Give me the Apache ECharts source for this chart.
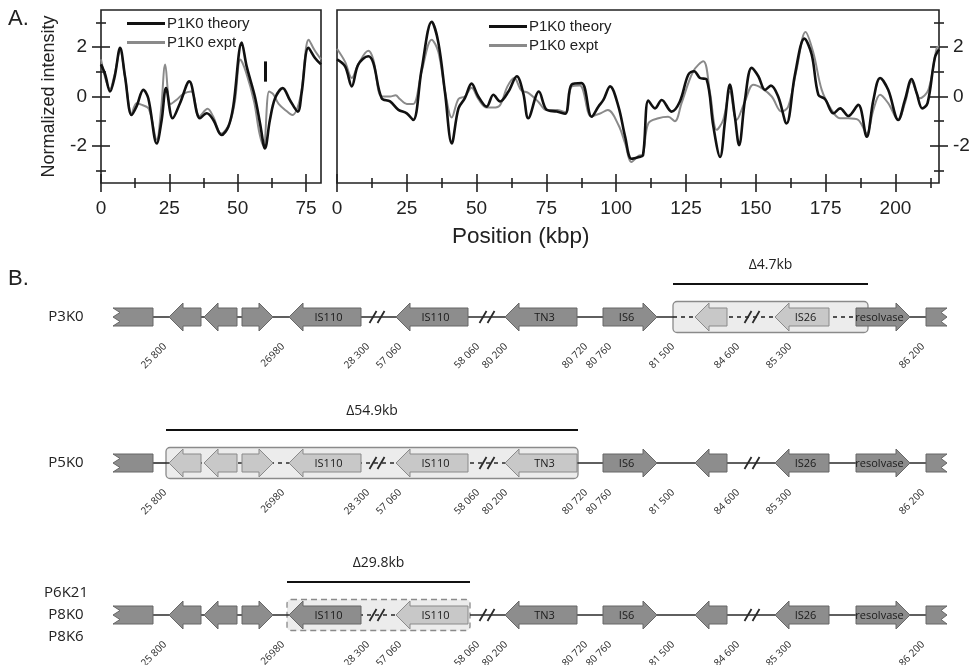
<!DOCTYPE html>
<html><head><meta charset="utf-8">
<script src="https://cdn.jsdelivr.net/npm/echarts@6/dist/echarts.min.js"></script>
<style>html,body{margin:0;padding:0;background:#fff}#c{width:978px;height:665px}</style>
</head><body><div id="c"></div>
<script>
// ---------------- Panel A data ----------------
const seriesNames = ['P1K0 theory', 'P1K0 expt'];
const leftXTicks = [0, 25, 50, 75];
const leftXMinor = [12.5, 37.5, 62.5];
const rightXTicks = [0, 25, 50, 75, 100, 125, 150, 175, 200];
const rightXMinor = [12.5, 37.5, 62.5, 87.5, 112.5, 137.5, 162.5, 187.5, 212.5];
const yTicks = [-2, 0, 2];
const yMinor = [-3, -1, 1, 3];
const leftXMax = 80.5, rightXMax = 215.6, yMin = -3.5, yMax = 3.5;

const leftTheory = [[0,1.3],[1.5,0.9],[3.3,0.2],[5,0.8],[7,1.97],[8.8,0.8],[11.2,-0.75],[13,-0.4],[15.5,0.27],[17.3,-0.07],[20.4,-1.9],[22.2,-0.95],[23.8,0.34],[26.2,-0.88],[28.9,-0.27],[32.3,0.61],[36.2,-0.88],[38.7,-0.68],[41.1,-0.95],[44.1,-1.56],[46.6,-1.22],[48.4,-0.4],[51.5,2.18],[53.3,1.22],[56.3,0],[58.2,-1.09],[60,-2.1],[61.8,-0.95],[63.7,-0.07],[66.5,0.34],[69.1,-0.14],[72,-0.61],[73.4,0.14],[75.9,1.97],[78.3,1.56],[80.5,1.3]];
const leftExpt = [[0,1.5],[3.3,0.3],[5,0.9],[7,1.85],[8.8,0.8],[11.2,-0.7],[13,-0.27],[15,-0.34],[17.5,-0.5],[20.4,-1.75],[22,-0.5],[23.5,1.29],[25.5,-0.3],[28,-0.1],[30,0.1],[33,0.2],[36,-0.8],[39,-0.5],[41,-0.8],[44,-1.5],[47,-1.1],[49,-0.2],[51,1.5],[53,1.0],[56,-0.2],[58,-1.5],[59.5,-2.0],[61.5,0.2],[63,0.1],[65,-0.3],[68,-0.6],[70,-0.75],[73,0.0],[76,2.3],[78,1.9],[80.5,1.5]];
const rightTheory = [[0,1.5],[2.9,1.22],[5.3,0.41],[7.6,1.29],[11.2,1.63],[13,1.36],[16,-0.07],[19,-0.2],[22,-0.54],[25,-0.68],[27.3,-0.95],[30.3,1.09],[33.9,3.02],[36.3,2.18],[38.7,0.14],[41.1,-1.9],[43.5,-0.48],[45.8,-0.07],[48.2,0.52],[50.6,0],[53.6,-0.41],[56,0.07],[58.4,-0.2],[61.4,0.2],[64.4,0.82],[66.7,0.14],[68.5,-0.88],[72.3,0.2],[75.1,-0.54],[78.7,-0.61],[81.7,-0.7],[84,0.48],[87.6,0.54],[91.2,-0.82],[93.6,-0.41],[95.4,-0.14],[97.8,0.41],[100.8,-0.41],[103.2,-1.63],[105.5,-2.52],[108.2,-2.45],[109.6,-2.38],[111.5,-0.16],[113.9,-0.48],[116.3,-0.14],[119.8,-0.61],[122.8,-0.2],[125.8,0.88],[127.9,1.02],[130,0.75],[132.4,0.68],[134.8,-1.22],[137.2,-2.45],[139,-0.95],[140.7,0.48],[142.5,-0.82],[144,-1.97],[146.1,-0.14],[148.5,1.16],[150.9,0.82],[153.3,0.27],[155.4,0.44],[158,0],[161,-1.09],[164,0.88],[167.4,2.34],[170,1.7],[172.4,0.07],[174.8,-0.11],[177.8,-0.68],[180.2,-0.48],[183.1,-0.79],[186.7,-0.34],[189.7,-1.63],[192.1,-0.14],[194.5,0.75],[197.4,0.27],[201,-0.95],[203.4,-0.14],[205.8,0.71],[207.6,0.14],[209.6,-0.48],[211.5,-0.27],[214.1,1.56],[215.6,1.9]];
const rightExpt = [[0,1.93],[2.9,1.4],[5.3,0.75],[7.6,1.3],[11.2,1.85],[13,1.5],[16,0.0],[19,0.0],[21,0.05],[22.5,-0.1],[25,-0.3],[27.3,-0.3],[30.3,1.0],[33.9,2.3],[36.3,1.8],[38.7,0.2],[41.1,-0.85],[43.5,-0.1],[45.8,0.0],[48.2,0.35],[50.6,-0.1],[53.6,-0.45],[56,-0.45],[58.4,-0.35],[61,0.4],[63.5,0.75],[66,0.25],[68.5,0.15],[72,-0.2],[75,-0.55],[79,-0.55],[82,-0.65],[84,0.4],[87,0.45],[91,-0.8],[94,-0.7],[97,-0.55],[100.8,-1.15],[103.2,-1.9],[105.5,-2.65],[108,-2.4],[109.5,-2.35],[111.5,-1.09],[115.1,-0.88],[118.6,-0.82],[121,-1.0],[123.4,-0.27],[127.6,1.02],[131.2,1.43],[133.6,0.14],[136,-1.35],[138.3,-0.95],[140.7,0.2],[143.1,-0.95],[146.1,-0.2],[149.1,0.48],[152.1,0.34],[155.7,0],[159.2,-0.61],[161.6,-0.41],[164.6,1.09],[167.8,2.61],[170.6,1.77],[173.6,0.27],[177.1,-0.54],[180.1,-0.88],[183.1,-0.88],[186.7,-0.95],[189.7,-1.5],[192.1,-0.54],[194.5,0.07],[197.4,-0.27],[201,-0.95],[203.4,-0.27],[205.8,0.61],[208.8,-0.07],[211.8,0.27],[214.8,1.97],[215.6,2.03]];
const markerX = 60, markerY = [1.42, 0.6];

// ---------------- Panel B data (diagram units) ----------------
const rowNames = [['P3K0'], ['P5K0'], ['P6K21', 'P8K0', 'P8K6']];
const rowY = [317, 463, 615];
const geneNames = ['', '', '', 'IS110', 'IS110', 'TN3', 'IS6', '', 'IS26', 'resolvase'];
const geneStart = [169, 204, 242, 289, 396, 505, 603, 695, 775, 856];
const geneEnd   = [201, 237, 273, 361, 468, 577, 657, 727, 829, 910];
const geneDir   = [-1, -1, 1, -1, -1, -1, 1, -1, -1, 1];
const deletedGenes = [[7, 8], [0, 1, 2, 3, 4, 5], [4]];
const deletionStart = [673, 166, 287];
const deletionEnd = [868, 578, 470];
const deletionLabel = ['Δ4.7kb', 'Δ54.9kb', 'Δ29.8kb'];
const leftBlock = [113, 153], rightBlock = [926, 947];
const breakPos = [377, 487, 752];
const posLabels = ['25 800', '26980', '28 300', '57 060', '58 060', '80 200', '80 720', '80 760', '81 500', '84 600', '85 300', '86 200'];
const posLabelX = [165, 283, 368, 400, 478, 506, 586, 610, 673, 738, 790, 923];

// ---------------- styles ----------------
const FONT = '"Liberation Sans", Arial, Helvetica, sans-serif';
const BFONT = '"Open Sans", "Noto Sans", sans-serif';
const AX = '#222';

function xAxisDef(grid, max, vals, major) {
  return {type: 'value', gridIndex: grid, min: 0, max: max, position: 'bottom',
    offset: major ? 9 : 5,
    axisLine: {show: false, onZero: false},
    axisTick: {show: true, inside: true, length: major ? 18 : 10, customValues: vals, lineStyle: {color: AX, width: 1.6}},
    axisLabel: major ? {customValues: vals, fontSize: 19, color: AX, margin: 7, fontFamily: FONT} : {show: false},
    splitLine: {show: false}};
}
function yAxisDef(grid, pos, vals, major, extra) {
  return Object.assign({type: 'value', gridIndex: grid, min: yMin, max: yMax, position: pos,
    offset: major ? 9 : 5,
    axisLine: {show: false, onZero: false},
    axisTick: {show: true, inside: true, length: major ? 18 : 10, customValues: vals, lineStyle: {color: AX, width: 1.6}},
    axisLabel: major ? {customValues: vals, fontSize: 19, color: AX, margin: 5, fontFamily: FONT} : {show: false},
    splitLine: {show: false}}, extra || {});
}

function renderRow(params, api) {
  const r = params.dataIndex;
  const yv = rowY[r];
  const cy = api.coord([0, yv])[1];
  const X = v => api.coord([v, yv])[0];
  const ch = [];
  const lineCol = '#2a2a2a';
  const bx1 = X(deletionStart[r]), bx2 = X(deletionEnd[r]);
  ch.push({type: 'rect', shape: {x: bx1, y: cy - 15.5, width: bx2 - bx1, height: 31, r: 4},
    style: {fill: '#ececec', stroke: '#8a8a8a', lineWidth: 1.3, lineDash: r === 2 ? [6, 4] : null}});
  [[leftBlock[1], deletionStart[r], false], [deletionStart[r], deletionEnd[r], true], [deletionEnd[r], rightBlock[0], false]]
    .forEach(s => ch.push({type: 'line', shape: {x1: X(s[0]), y1: cy, x2: X(s[1]), y2: cy},
      style: {stroke: lineCol, lineWidth: 1.6, lineDash: s[2] ? [4, 4] : null}}));
  breakPos.forEach(b => {
    const bx = X(b);
    [-4, 4].forEach(d => ch.push({type: 'line', shape: {x1: bx + d - 3.5, y1: cy + 6, x2: bx + d + 3.5, y2: cy - 6},
      style: {stroke: lineCol, lineWidth: 1.8}}));
  });
  const H = 14, bh = 9, hh = 14;
  geneStart.forEach((gs, g) => {
    const x1 = X(gs), x2 = X(geneEnd[g]);
    const light = deletedGenes[r].indexOf(g) >= 0;
    let pts;
    if (geneDir[g] < 0) {
      pts = [[x1, cy], [x1 + H, cy - hh], [x1 + H, cy - bh], [x2, cy - bh], [x2, cy + bh], [x1 + H, cy + bh], [x1 + H, cy + hh]];
    } else {
      pts = [[x2, cy], [x2 - H, cy - hh], [x2 - H, cy - bh], [x1, cy - bh], [x1, cy + bh], [x2 - H, cy + bh], [x2 - H, cy + hh]];
    }
    ch.push({type: 'polygon', shape: {points: pts},
      style: {fill: light ? '#c8c8c8' : '#8d8d8d', stroke: light ? '#8a8a8a' : '#676767', lineWidth: 1}});
    if (geneNames[g]) {
      ch.push({type: 'text', x: (x1 + x2) / 2 - geneDir[g] * H / 4, y: cy + 0.5,
        style: {text: geneNames[g], align: 'center', verticalAlign: 'middle', font: '11px ' + BFONT, fill: '#1a1a1a'}});
    }
  });
  const l1 = X(leftBlock[0]), l2 = X(leftBlock[1]);
  ch.push({type: 'polygon', shape: {points: [[l1, cy - 9], [l2, cy - 9], [l2, cy + 9], [l1, cy + 9], [l1 + 7, cy + 4.5], [l1, cy], [l1 + 7, cy - 4.5]]},
    style: {fill: '#8d8d8d', stroke: '#676767', lineWidth: 1}});
  const r1 = X(rightBlock[0]), r2 = X(rightBlock[1]);
  ch.push({type: 'polygon', shape: {points: [[r1, cy - 9], [r2, cy - 9], [r2 - 6, cy - 4.5], [r2, cy], [r2 - 6, cy + 4.5], [r2, cy + 9], [r1, cy + 9]]},
    style: {fill: '#8d8d8d', stroke: '#676767', lineWidth: 1}});
  const ly = cy - 33;
  ch.push({type: 'line', shape: {x1: bx1, y1: ly, x2: bx2, y2: ly}, style: {stroke: '#111', lineWidth: 2.2}});
  ch.push({type: 'text', x: (bx1 + bx2) / 2, y: ly - 19,
    style: {text: deletionLabel[r], align: 'center', verticalAlign: 'middle', font: '14px ' + BFONT, fill: '#222'}});
  posLabels.forEach((t, i) => {
    ch.push({type: 'text', x: X(posLabelX[i]), y: cy + 28, rotation: Math.PI / 4,
      style: {text: t, align: 'right', verticalAlign: 'middle', font: '10px ' + BFONT, fill: '#2a2a2a'}});
  });
  const names = rowNames[r];
  names.forEach((n, k) => {
    ch.push({type: 'text', x: X(66), y: cy + (k - (names.length - 1) / 2) * 22,
      style: {text: n, align: 'center', verticalAlign: 'middle', font: '15px ' + BFONT, fill: '#222'}});
  });
  return {type: 'group', children: ch};
}

const legendBase = {orient: 'vertical', itemWidth: 38, itemHeight: 3, itemGap: 4, icon: 'rect', padding: 0,
  data: seriesNames, textStyle: {fontSize: 15, color: AX, fontFamily: FONT, padding: [0, 0, 0, -3]}, selectedMode: false};

const chart = echarts.init(document.getElementById('c'));
chart.setOption({
  animation: false,
  backgroundColor: '#fff',
  grid: [
    {left: 101, top: 10, width: 220, height: 173, show: true, borderColor: AX, borderWidth: 1.6, backgroundColor: 'transparent'},
    {left: 337, top: 10, width: 602, height: 173, show: true, borderColor: AX, borderWidth: 1.6, backgroundColor: 'transparent'},
    {left: 0, top: 0, right: 0, bottom: 0}
  ],
  xAxis: [
    xAxisDef(0, leftXMax, leftXTicks, true),
    xAxisDef(0, leftXMax, leftXMinor, false),
    xAxisDef(1, rightXMax, rightXTicks, true),
    xAxisDef(1, rightXMax, rightXMinor, false),
    {type: 'value', gridIndex: 2, min: 0, max: 978, show: false}
  ],
  yAxis: [
    yAxisDef(0, 'left', yTicks, true, {name: 'Normalized intensity', nameLocation: 'middle', nameGap: 34,
      nameTextStyle: {fontSize: 18, color: AX, fontFamily: FONT}}),
    yAxisDef(0, 'left', yMinor, false),
    yAxisDef(1, 'right', yTicks, true),
    yAxisDef(1, 'right', yMinor, false),
    {type: 'value', gridIndex: 2, min: 0, max: 665, inverse: true, show: false}
  ],
  legend: [
    Object.assign({left: 127, top: 16}, legendBase),
    Object.assign({left: 489, top: 19}, legendBase)
  ],
  graphic: [
    {type: 'text', left: 8, top: 8, style: {text: 'A.', font: '22px ' + FONT, fill: AX}},
    {type: 'text', left: 8, top: 268, style: {text: 'B.', font: '22px ' + FONT, fill: AX}},
    {type: 'text', left: 452, top: 225, style: {text: 'Position (kbp)', font: '22.5px ' + FONT, fill: AX}}
  ],
  series: [
    {name: seriesNames[1], type: 'line', xAxisIndex: 0, yAxisIndex: 0, data: leftExpt, symbol: 'none', smooth: 0.35,
      lineStyle: {color: '#8a8a8a', width: 2}, itemStyle: {color: '#8a8a8a'}},
    {name: seriesNames[0], type: 'line', xAxisIndex: 0, yAxisIndex: 0, data: leftTheory, symbol: 'none', smooth: 0.35,
      lineStyle: {color: '#111', width: 2.6}, itemStyle: {color: '#111'},
      markLine: {symbol: 'none', silent: true, label: {show: false}, lineStyle: {color: '#111', width: 3, type: 'solid'},
        data: [[{coord: [markerX, markerY[0]]}, {coord: [markerX, markerY[1]]}]]}},
    {name: seriesNames[1], type: 'line', xAxisIndex: 2, yAxisIndex: 2, data: rightExpt, symbol: 'none', smooth: 0.35,
      lineStyle: {color: '#8a8a8a', width: 2}, itemStyle: {color: '#8a8a8a'}},
    {name: seriesNames[0], type: 'line', xAxisIndex: 2, yAxisIndex: 2, data: rightTheory, symbol: 'none', smooth: 0.35,
      lineStyle: {color: '#111', width: 2.6}, itemStyle: {color: '#111'}},
    {type: 'custom', xAxisIndex: 4, yAxisIndex: 4, clip: false, silent: true,
      data: rowY.map(y => [0, y]), encode: {x: 0, y: 1}, renderItem: renderRow}
  ]
});
</script></body></html>
